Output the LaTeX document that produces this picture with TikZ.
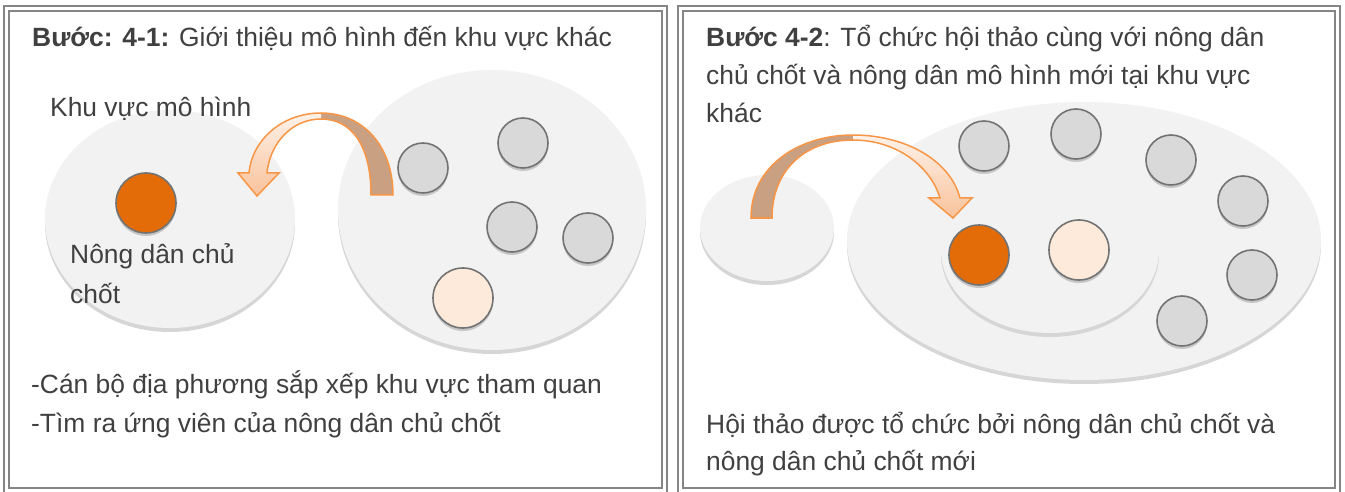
\documentclass[tikz,border=0pt]{standalone}
\usepackage{fontspec}
\setmainfont{Liberation Sans}
\usetikzlibrary{shadows}
\definecolor{txt}{HTML}{404040}
\definecolor{framec}{HTML}{858585}
\definecolor{ellfill}{HTML}{F2F2F2}
\definecolor{ellshadow}{HTML}{D6D6D6}
\definecolor{graycirc}{HTML}{D9D9D9}
\definecolor{circline}{HTML}{737373}
\definecolor{orangec}{HTML}{E36C09}
\definecolor{peachc}{HTML}{FDEADA}
\definecolor{arrline}{HTML}{F79646}
\definecolor{arrbrown}{HTML}{C9A182}
\definecolor{arrlight}{HTML}{FEF2E9}
\definecolor{arrdark}{HTML}{F9C29B}
\begin{document}
\begin{tikzpicture}[x=1pt,y=-1pt,
  frameline/.style={draw=framec, line width=2pt},
  graydot/.style={circle, minimum size=50pt, inner sep=0pt, draw=circline, line width=1.6pt, fill=graycirc,
     drop shadow={shadow xshift=0pt, shadow yshift=-3pt, fill=black, opacity=0.18}},
  peachdot/.style={graydot, minimum size=60pt, fill=peachc},
  orangedot/.style={graydot, minimum size=60pt, fill=orangec},
  txtnode/.style={anchor=base west, inner sep=0pt, text=txt, font=\fontsize{26.4}{38}\selectfont},
  arrbody/.style={draw=arrline, line width=1.5pt, line join=miter},
]
\useasboundingbox (0,0) rectangle (1345,492);
\fill[white] (0,0) rectangle (1345,492);
% frames
\draw[frameline] (4,6) rectangle (667,500);
\draw[frameline] (9,11) rectangle (662,488);
\draw[frameline] (678,6) rectangle (1340,500);
\draw[frameline] (683,11) rectangle (1335,488);
% left panel ellipses
\fill[ellshadow] (170,223) ellipse [x radius=125pt, y radius=109pt];
\fill[ellfill] (170,219) ellipse [x radius=125pt, y radius=109pt];
\fill[ellshadow] (492,214) ellipse [x radius=154pt, y radius=140pt];
\fill[ellfill] (492,210) ellipse [x radius=154pt, y radius=140pt];
% right panel ellipses
\fill[ellshadow] (767,232) ellipse [x radius=67pt, y radius=53pt];
\fill[ellfill] (767,228) ellipse [x radius=67pt, y radius=53pt];
\fill[ellshadow] (1084,245) ellipse [x radius=237pt, y radius=139pt];
\fill[ellfill] (1084,241) ellipse [x radius=237pt, y radius=139pt];
\fill[ellshadow] (1050,254) ellipse [x radius=109pt, y radius=83pt];
\fill[ellfill] (1050,250) ellipse [x radius=109pt, y radius=83pt];
% left panel circles
\node[orangedot] (o1) at (146,203) {};
\node[graydot] (g1) at (423,168) {};
\node[graydot] (g2) at (523,143) {};
\node[graydot] (g3) at (512,227) {};
\node[graydot] (g4) at (588,238) {};
\node[peachdot] (p1) at (463,298) {};
% right panel circles
\node[graydot] (r1) at (984,146) {};
\node[graydot] (r2) at (1076,134) {};
\node[graydot] (r3) at (1171,160) {};
\node[graydot] (r4) at (1243,201) {};
\node[graydot] (r5) at (1252,275) {};
\node[graydot] (r6) at (1182,321) {};
\node[orangedot] (o2) at (979,255) {};
\node[peachdot] (p2) at (1079,250) {};
% left arrow
\fill[arrbrown] (321,113) .. controls (362,113) and (393,145) .. (393,195) -- (371,195)
   .. controls (371,143) and (350,119) .. (321,119) -- cycle;
\shade[top color=arrlight, bottom color=arrdark] (321,113) .. controls (282,113) and (252,140) .. (249,173)
   -- (238,173) -- (257,196) -- (279,173) -- (267,173)
   .. controls (270,143) and (292,119) .. (321,119) -- cycle;
\draw[arrbody] (393,195) .. controls (393,145) and (362,113) .. (321,113)
   .. controls (282,113) and (252,140) .. (249,173)
   -- (238,173) -- (257,196) -- (279,173) -- (267,173)
   .. controls (270,143) and (292,119) .. (321,119)
   .. controls (350,119) and (371,143) .. (371,195) -- cycle;
% right arrow
\fill[arrbrown] (853,135) .. controls (800,135) and (751,165) .. (751,218) -- (772,218)
   .. controls (772,170) and (805,140) .. (853,140) -- cycle;
\shade[top color=arrlight, bottom color=arrdark] (853,135) .. controls (905,135) and (950,160) .. (960,198)
   -- (972,198) -- (953,218) -- (929,198) -- (940,198)
   .. controls (930,165) and (895,140) .. (853,140) -- cycle;
\draw[arrbody] (751,218) .. controls (751,165) and (800,135) .. (853,135)
   .. controls (905,135) and (950,160) .. (960,198)
   -- (972,198) -- (953,218) -- (929,198) -- (940,198)
   .. controls (930,165) and (895,140) .. (853,140)
   .. controls (805,140) and (772,170) .. (772,218) -- cycle;
% texts left
\node[txtnode] (t1) at (32,47) {\textbf{Bước: 4-1:} Giới thiệu mô hình đến khu vực khác};
\node[txtnode] (kv) at (50,117) {Khu vực mô hình};
\node[txtnode] (nd1) at (70,263) {Nông dân chủ};
\node[txtnode] (nd2) at (70,303) {chốt};
\node[txtnode] (b1) at (31,393) {-Cán bộ địa phương sắp xếp khu vực tham quan};
\node[txtnode] (b2) at (31,432) {-Tìm ra ứng viên của nông dân chủ chốt};
% texts right
\node[txtnode] (t2a) at (706,47) {\textbf{Bước 4-2}: Tổ chức hội thảo cùng với nông dân};
\node[txtnode] (t2b) at (706,85) {chủ chốt và nông dân mô hình mới tại khu vực};
\node[txtnode] (t2c) at (706,123) {khác};
\node[txtnode] (h1) at (706,433) {Hội thảo được tổ chức bởi nông dân chủ chốt và};
\node[txtnode] (h2) at (706,470) {nông dân chủ chốt mới};
\end{tikzpicture}
\end{document}
